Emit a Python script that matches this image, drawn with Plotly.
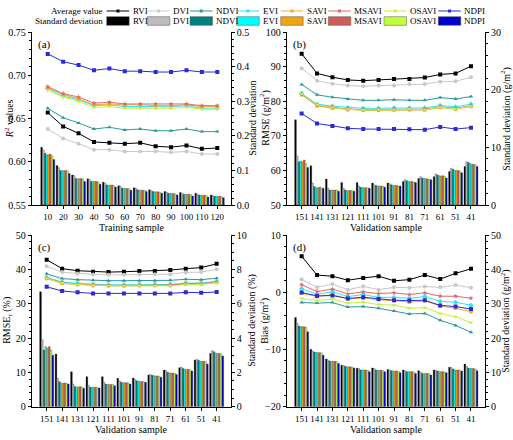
import plotly.graph_objects as go
from plotly.subplots import make_subplots

indices = ["RVI", "DVI", "NDVI", "EVI", "SAVI", "MSAVI", "OSAVI", "NDPI"]
training = [10, 20, 30, 40, 50, 60, 70, 80, 90, 100, 110, 120]
validation = ["151", "141", "131", "121", "111", "101", "91", "81", "71", "61", "51", "41"]

# (a) R2 average / standard deviation, rows follow `indices`
r2_avg = [
    [0.657, 0.641, 0.633, 0.623, 0.622, 0.621, 0.622, 0.618, 0.617, 0.619, 0.615, 0.616],
    [0.638, 0.627, 0.621, 0.614, 0.614, 0.612, 0.612, 0.612, 0.611, 0.612, 0.609, 0.609],
    [0.662, 0.651, 0.645, 0.638, 0.640, 0.637, 0.638, 0.636, 0.636, 0.638, 0.635, 0.635],
    [0.685, 0.676, 0.672, 0.665, 0.666, 0.664, 0.664, 0.664, 0.664, 0.665, 0.662, 0.662],
    [0.686, 0.678, 0.673, 0.666, 0.667, 0.666, 0.666, 0.665, 0.665, 0.666, 0.664, 0.664],
    [0.687, 0.679, 0.675, 0.668, 0.669, 0.667, 0.667, 0.667, 0.667, 0.667, 0.665, 0.665],
    [0.683, 0.675, 0.670, 0.663, 0.664, 0.662, 0.662, 0.662, 0.662, 0.663, 0.661, 0.661],
    [0.725, 0.716, 0.712, 0.706, 0.708, 0.705, 0.705, 0.704, 0.704, 0.706, 0.704, 0.704],
]
r2_sd = [
    [0.167, 0.114, 0.087, 0.076, 0.066, 0.056, 0.050, 0.044, 0.039, 0.036, 0.034, 0.029],
    [0.159, 0.108, 0.085, 0.074, 0.064, 0.055, 0.048, 0.042, 0.037, 0.034, 0.031, 0.027],
    [0.150, 0.100, 0.077, 0.068, 0.058, 0.049, 0.044, 0.039, 0.034, 0.031, 0.029, 0.025],
    [0.145, 0.099, 0.076, 0.068, 0.057, 0.048, 0.043, 0.038, 0.033, 0.031, 0.028, 0.025],
    [0.146, 0.100, 0.076, 0.068, 0.057, 0.048, 0.043, 0.038, 0.033, 0.031, 0.028, 0.025],
    [0.147, 0.100, 0.077, 0.068, 0.058, 0.048, 0.043, 0.038, 0.033, 0.031, 0.028, 0.025],
    [0.142, 0.098, 0.075, 0.066, 0.056, 0.047, 0.042, 0.037, 0.032, 0.030, 0.027, 0.024],
    [0.132, 0.091, 0.068, 0.060, 0.052, 0.043, 0.039, 0.034, 0.029, 0.026, 0.023, 0.021],
]

# (b) RMSE (g/m2)
rmse_avg = [
    [93.8, 88.1, 87.0, 86.2, 86.0, 86.2, 86.5, 86.5, 86.9, 87.8, 88.1, 90.2],
    [89.6, 86.0, 85.1, 84.6, 84.4, 84.6, 84.6, 85.0, 85.0, 85.7, 85.8, 87.0],
    [84.9, 81.9, 81.2, 80.7, 80.3, 80.3, 80.5, 80.3, 80.3, 81.1, 80.7, 81.4],
    [82.3, 79.2, 78.6, 78.2, 78.0, 78.0, 78.1, 78.1, 78.1, 78.8, 78.4, 79.2],
    [81.9, 78.7, 78.0, 77.6, 77.4, 77.4, 77.5, 77.6, 77.5, 78.2, 77.8, 78.5],
    [82.1, 78.9, 78.3, 77.8, 77.6, 77.6, 77.7, 77.7, 77.7, 78.4, 78.0, 78.7],
    [82.2, 79.0, 78.2, 77.7, 77.5, 77.6, 77.6, 77.7, 77.6, 78.3, 77.9, 78.6],
    [76.5, 73.6, 72.9, 72.2, 72.0, 72.0, 72.0, 71.9, 71.8, 72.6, 72.0, 72.4],
]
rmse_sd = [
    [14.8, 6.8, 4.5, 3.9, 3.9, 3.8, 3.8, 4.1, 4.6, 4.9, 5.8, 6.7],
    [8.5, 3.8, 2.9, 2.9, 3.3, 3.5, 3.7, 4.4, 4.9, 5.4, 6.4, 7.5],
    [7.5, 3.2, 2.6, 2.6, 3.1, 3.4, 3.5, 4.2, 4.7, 5.2, 6.2, 7.4],
    [7.6, 3.0, 2.6, 2.5, 3.0, 3.3, 3.4, 4.1, 4.6, 5.1, 6.0, 7.2],
    [7.5, 3.0, 2.6, 2.5, 3.0, 3.3, 3.4, 4.1, 4.6, 5.0, 6.0, 7.1],
    [7.8, 3.1, 2.6, 2.5, 3.0, 3.3, 3.4, 4.1, 4.5, 5.1, 6.0, 7.1],
    [7.2, 3.0, 2.6, 2.5, 3.0, 3.3, 3.3, 4.0, 4.5, 5.0, 5.9, 7.0],
    [6.5, 2.9, 2.4, 2.4, 2.9, 3.1, 3.3, 3.9, 4.4, 4.7, 5.6, 6.7],
]

# (c) relative RMSE (%)
rmser_avg = [
    [42.8, 40.2, 39.6, 39.3, 39.2, 39.3, 39.5, 39.5, 39.8, 40.2, 40.5, 41.6],
    [40.9, 39.2, 38.8, 38.5, 38.4, 38.4, 38.5, 38.6, 38.6, 39.1, 39.2, 40.0],
    [38.7, 37.3, 37.0, 36.8, 36.7, 36.7, 36.7, 36.7, 36.8, 37.1, 37.0, 37.4],
    [37.6, 36.3, 35.9, 35.6, 35.5, 35.5, 35.6, 35.6, 35.6, 36.0, 36.0, 36.5],
    [37.3, 35.9, 35.6, 35.3, 35.2, 35.2, 35.3, 35.3, 35.3, 35.7, 35.7, 36.2],
    [37.5, 36.1, 35.7, 35.4, 35.3, 35.3, 35.4, 35.4, 35.4, 35.8, 35.8, 36.3],
    [37.4, 36.0, 35.6, 35.3, 35.2, 35.2, 35.3, 35.2, 35.2, 35.6, 35.6, 36.1],
    [34.9, 33.7, 33.3, 33.0, 33.0, 33.0, 33.0, 33.0, 33.0, 33.3, 33.2, 33.4],
]
rmser_sd = [
    [6.7, 3.07, 2.04, 1.75, 1.75, 1.65, 1.67, 1.84, 2.14, 2.27, 2.72, 3.10],
    [3.9, 1.65, 1.32, 1.24, 1.42, 1.50, 1.59, 1.88, 2.10, 2.31, 2.76, 3.26],
    [3.3, 1.46, 1.17, 1.13, 1.32, 1.42, 1.51, 1.83, 2.00, 2.23, 2.70, 3.20],
    [3.5, 1.36, 1.14, 1.13, 1.30, 1.40, 1.48, 1.80, 1.97, 2.18, 2.65, 3.12],
    [3.4, 1.36, 1.15, 1.13, 1.30, 1.40, 1.47, 1.79, 1.96, 2.17, 2.64, 3.10],
    [3.5, 1.38, 1.17, 1.13, 1.30, 1.40, 1.47, 1.79, 1.96, 2.17, 2.64, 3.10],
    [3.3, 1.36, 1.14, 1.12, 1.29, 1.39, 1.45, 1.78, 1.94, 2.16, 2.62, 3.08],
    [3.0, 1.32, 1.07, 1.09, 1.22, 1.32, 1.42, 1.71, 1.88, 2.08, 2.49, 2.95],
]

# (d) Bias (g/m2)
bias_avg = [
    [6.3, 3.0, 2.8, 2.1, 2.5, 2.8, 2.0, 2.2, 3.0, 2.3, 3.3, 4.1],
    [2.25, 0.85, 1.43, 0.44, 1.03, 0.44, 0.85, 0.8, 1.0, 0.85, 1.25, 0.8],
    [-1.8, -1.9, -1.8, -2.6, -2.5, -2.8, -3.3, -3.8, -3.7, -4.9, -5.8, -7.0],
    [0.62, -0.36, 0.1, -0.76, -0.4, -0.9, -0.9, -1.05, -0.76, -1.6, -1.75, -2.26],
    [-0.15, -0.76, -0.4, -1.16, -1.0, -1.33, -1.45, -1.75, -1.5, -2.4, -2.8, -3.4],
    [1.32, 0.1, 0.56, -0.3, 0.06, -0.24, -0.1, -0.4, -0.1, -0.7, -0.7, -1.05],
    [-1.1, -1.45, -1.2, -1.9, -1.75, -2.15, -2.25, -2.8, -2.7, -3.7, -4.3, -5.3],
    [-0.05, -0.64, -0.58, -1.1, -0.87, -1.2, -1.4, -1.45, -1.4, -2.3, -2.5, -2.95],
]
bias_sd = [
    [26.0, 16.7, 13.9, 12.1, 11.2, 11.3, 10.8, 10.7, 10.5, 10.7, 11.5, 12.4],
    [24.3, 16.2, 13.6, 12.0, 11.1, 11.1, 10.7, 10.5, 10.1, 10.6, 11.4, 11.7],
    [23.5, 15.9, 13.3, 11.8, 10.7, 10.7, 10.5, 10.2, 9.7, 10.4, 11.0, 11.3],
    [23.3, 15.8, 13.2, 11.6, 10.7, 10.6, 10.4, 10.2, 9.7, 10.2, 10.7, 11.1],
    [23.3, 15.8, 13.2, 11.6, 10.7, 10.6, 10.4, 10.2, 9.7, 10.2, 10.7, 11.1],
    [23.3, 15.7, 13.2, 11.6, 10.7, 10.6, 10.4, 10.2, 9.7, 10.2, 10.7, 11.1],
    [23.1, 15.7, 13.1, 11.5, 10.6, 10.5, 10.3, 10.1, 9.6, 10.1, 10.6, 11.0],
    [21.8, 15.0, 12.6, 11.3, 10.2, 10.2, 9.9, 9.7, 9.2, 9.9, 10.4, 10.5],
]

line_colors = ["#000000", "#c8c8c8", "#2a9a9a", "#22e8f8", "#f2a933", "#e06868", "#c4f040", "#2a2ad8"]
bar_colors = ["#000000", "#bdbdbd", "#008080", "#00ffff", "#eea512", "#cd5c5c", "#bfff3f", "#0000cd"]
symbols = ["square", "circle", "triangle-up", "diamond", "circle", "star", "triangle-down", "square"]

W, H = 513, 440
FONT = "Liberation Serif"

fig = make_subplots(rows=2, cols=2, specs=[[{"secondary_y": True}] * 2] * 2)

panels = [
    (1, 1, training, r2_avg, r2_sd),
    (1, 2, validation, rmse_avg, rmse_sd),
    (2, 1, validation, rmser_avg, rmser_sd),
    (2, 2, validation, bias_avg, bias_sd),
]
for row, col, xs, avg, sd in panels:
    for i, name in enumerate(indices):
        fig.add_trace(go.Bar(x=xs, y=sd[i], name=name, showlegend=False,
                             marker=dict(color=bar_colors[i], line=dict(color="#333333", width=0.3))),
                      row=row, col=col, secondary_y=True)
    for i, name in enumerate(indices):
        fig.add_trace(go.Scatter(x=xs, y=avg[i], name=name, mode="lines+markers", showlegend=False,
                                 line=dict(color=line_colors[i], width=1),
                                 marker=dict(symbol=symbols[i], size=4, color=line_colors[i])),
                      row=row, col=col, secondary_y=False)

axis_style = dict(showline=True, linecolor="black", linewidth=1, ticks="outside", ticklen=3,
                  tickcolor="black", showgrid=False, zeroline=False, automargin=False, tickangle=0)
fig.update_xaxes(**axis_style, tickfont=dict(family=FONT, size=9, color="black"))
fig.update_yaxes(**axis_style, tickfont=dict(family=FONT, size=10, color="black"),
                 minor=dict(ticks="outside", ticklen=2, tickcolor="black"))

xdom = {1: [31.7 / W, 230.7 / W], 2: [286.7 / W, 485 / W]}
ydom = {1: [1 - 205 / H, 1 - 32.3 / H], 2: [1 - 406.7 / H, 1 - 235 / H]}
for row in (1, 2):
    for col in (1, 2):
        fig.update_xaxes(domain=xdom[col], row=row, col=col)
        fig.update_yaxes(domain=ydom[row], row=row, col=col, secondary_y=False)

fig.update_xaxes(range=[-0.4, 128.7], tickvals=training, row=1, col=1)
for row, col in [(1, 2), (2, 1), (2, 2)]:
    fig.update_xaxes(type="category", range=[-0.97, 11.91], row=row, col=col)

left = {
    (1, 1): dict(range=[0.55, 0.75], dtick=0.05, tickformat=".2f"),
    (1, 2): dict(range=[50, 100], dtick=10),
    (2, 1): dict(range=[0, 50], dtick=10),
    (2, 2): dict(range=[-20, 10], dtick=10),
}
right = {
    (1, 1): dict(range=[0, 0.5], dtick=0.1, tickformat=".1f"),
    (1, 2): dict(range=[0, 30], dtick=10),
    (2, 1): dict(range=[0, 10], dtick=2),
    (2, 2): dict(range=[0, 50], dtick=10),
}
for (row, col), opts in left.items():
    fig.update_yaxes(**opts, row=row, col=col, secondary_y=False)
for (row, col), opts in right.items():
    fig.update_yaxes(**opts, row=row, col=col, secondary_y=True)

# axis titles as annotations (positions in pixels of the 513x440 canvas)
title_font = dict(family=FONT, size=10, color="black")
x_titles = [("Training sample", 1, 1), ("Validation sample", 1, 2),
            ("Validation sample", 2, 1), ("Validation sample", 2, 2)]
for text, row, col in x_titles:
    fig.add_annotation(text=text, xref="paper", yref="paper", x=sum(xdom[col]) / 2,
                       y=ydom[row][0] - 23 / H, xanchor="center", yanchor="middle",
                       showarrow=False, font=title_font)
y_titles = [
    ("<i>R</i><sup>2</sup> values", 8.5, 1), ("Standard deviation", 253, 1),
    ("RMSE (g/m<sup>2</sup>)", 265, 1), ("Standard deviation (g/m<sup>2</sup>)", 506, 1),
    ("RMSE<sub>r</sub> (%)", 8, 2), ("Standard deviation (%)", 252, 2),
    ("Bias (g/m<sup>2</sup>)", 265, 2), ("Standard deviation (g/m<sup>2</sup>)", 506, 2),
]
for text, px, row in y_titles:
    fig.add_annotation(text=text, xref="paper", yref="paper", x=px / W, y=sum(ydom[row]) / 2,
                       xanchor="center", yanchor="middle", textangle=-90,
                       showarrow=False, font=title_font)

# panel letters
for (row, col), letter in zip([(1, 1), (1, 2), (2, 1), (2, 2)], "abcd"):
    fig.add_annotation(text=f"({letter})", xref="paper", yref="paper",
                       x=xdom[col][0] + 4 / W, y=ydom[row][1] - 4 / H, xanchor="left", yanchor="top",
                       showarrow=False, font=dict(family=FONT, size=11, color="black"))

# two-row legend drawn at the top
leg_x = [106.7, 147.3, 190, 236.7, 280.7, 328.3, 384, 438.3]
row1, row2 = 11, 21
for label, yy in [("Average value", row1), ("Standard deviation", row2)]:
    fig.add_annotation(text=label, xref="paper", yref="paper", x=105 / W, y=1 - yy / H,
                       xanchor="right", yanchor="middle", showarrow=False,
                       font=dict(family=FONT, size=9, color="black"))
for i, name in enumerate(indices):
    x0, x1 = leg_x[i], leg_x[i] + 22.5
    xc = (x0 + x1) / 2
    fig.add_shape(type="line", xref="paper", yref="paper", x0=x0 / W, x1=x1 / W,
                  y0=1 - row1 / H, y1=1 - row1 / H, line=dict(color=line_colors[i], width=1))
    fig.add_shape(type="rect", xref="paper", yref="paper", x0=(xc - 1.5) / W, x1=(xc + 1.5) / W,
                  y0=1 - (row1 + 1.5) / H, y1=1 - (row1 - 1.5) / H,
                  fillcolor=line_colors[i], line=dict(width=0))
    fig.add_shape(type="rect", xref="paper", yref="paper", x0=x0 / W, x1=x1 / W,
                  y0=1 - (row2 + 4.3) / H, y1=1 - (row2 - 4.3) / H,
                  fillcolor=bar_colors[i], line=dict(color="#555555", width=0.5))
    for yy in (row1, row2):
        fig.add_annotation(text=name, xref="paper", yref="paper", x=(x1 + 1.5) / W, y=1 - yy / H,
                           xanchor="left", yanchor="middle", showarrow=False,
                           font=dict(family=FONT, size=9, color="black"))

fig.update_layout(width=W, height=H, margin=dict(l=0, r=0, t=0, b=0),
                  barmode="group", bargap=0.09, bargroupgap=0,
                  plot_bgcolor="white", paper_bgcolor="white", showlegend=False,
                  font=dict(family=FONT, size=10, color="black"))

# drop the browser's default 8px body margin so the 513x440 figure fills the window
fig.write_html("out.html", config={"displayModeBar": False},
               post_script="document.body.style.margin='0px';")
